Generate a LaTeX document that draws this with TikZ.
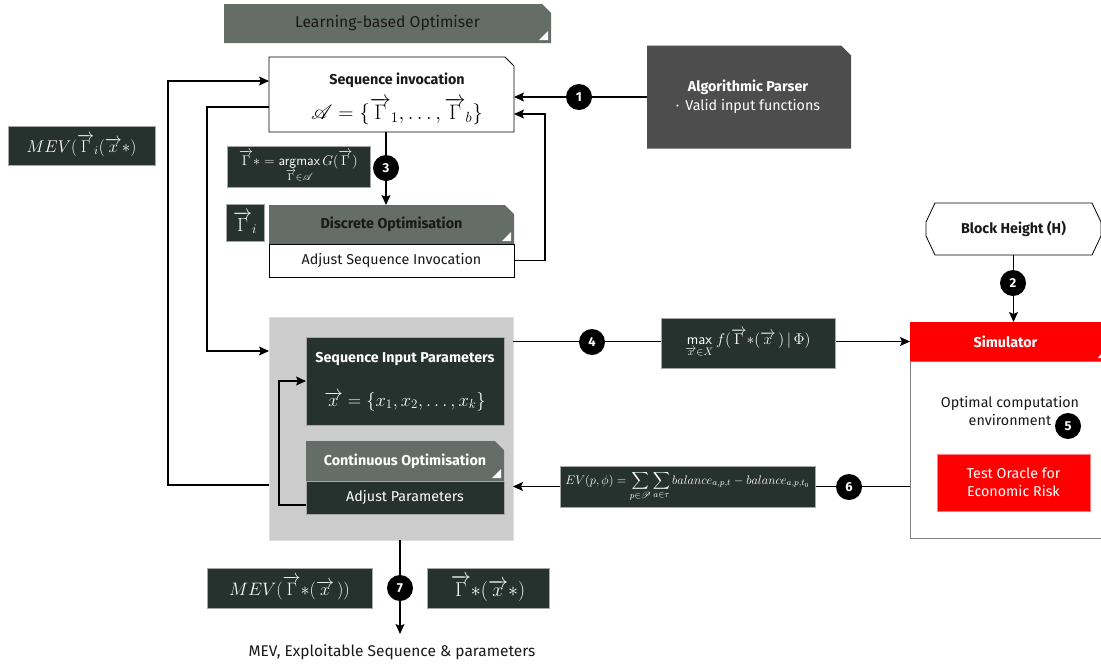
\RequirePackage{fix-cm}
\documentclass[tikz,border=0pt]{standalone}
\usepackage{amsmath}
\usepackage{mathrsfs}
\usepackage{fontspec}
\setmainfont{Fira Sans}
\usetikzlibrary{arrows.meta,calc}
\pgfdeclarelayer{bg}\pgfdeclarelayer{lines}
\pgfsetlayers{bg,lines,main}
\definecolor{dkg}{RGB}{38,50,45}
\definecolor{hdrg}{RGB}{101,109,105}
\definecolor{prs}{RGB}{77,77,77}
\definecolor{lgray}{RGB}{204,204,204}
\definecolor{txtdk}{RGB}{25,25,25}
\newcommand\chbox[4]{\begin{pgfonlayer}{bg}\filldraw[fill=#2,draw=#3,line width=0.8pt] (#1.south west) -- (#1.north west) -- ([xshift=-#4]#1.north east) -- ([yshift=-#4]#1.north east) -- (#1.south east) -- cycle;\end{pgfonlayer}}
\newcommand\corner[1]{\fill[white] ([xshift=-12pt,yshift=3pt]#1.south east) -- ([xshift=-3pt,yshift=3pt]#1.south east) -- ([xshift=-3pt,yshift=12pt]#1.south east) -- cycle;}
\tikzset{
  base/.style={inner sep=0pt, outer sep=0pt, align=center},
  darkbox/.style={base, fill=dkg, draw=gray!70, line width=0.7pt, text=white},
  ttl/.style={font=\fontsize{14.3}{16}\selectfont\bfseries},
  reg/.style={font=\fontsize{14.3}{16}\selectfont},
  num/.style={circle, fill=black, text=white, minimum size=26pt, inner sep=0pt, font=\fontsize{13}{13}\selectfont\bfseries},
  arr/.style={line width=1.2pt, -{Stealth[length=10pt,width=9pt,inset=2pt]}},
}
\begin{document}
\begin{tikzpicture}[x=1pt,y=-1pt]
\useasboundingbox (0,0) rectangle (1101,665);
% Learning-based optimiser
\node[base, minimum width=327pt, minimum height=39pt, font=\fontsize{15.7}{17}\selectfont, text=txtdk] (lbo) at (387.5,23.5) {Learning-based Optimiser};
\chbox{lbo}{hdrg}{none}{9pt}
\corner{lbo}
% Sequence invocation
\node[base, minimum width=245pt, minimum height=75pt] (seqinv) at (391.5,94.5) {};
\chbox{seqinv}{white}{black}{9pt}
\node[base, ttl, text=txtdk] (seqinvT) at (397,80) {Sequence invocation};
\node[base, font=\fontsize{21}{21}\selectfont] (seqinvF) at (397,111) {$\mathscr{A} = \{\overrightarrow{\Gamma}_1,\ldots,\overrightarrow{\Gamma}_b\}$};
% Parser
\node[base, minimum width=204pt, minimum height=103pt] (parser) at (749,97) {};
\chbox{parser}{prs}{none}{10pt}
\node[base, ttl, text=white] (parserT) at (748,87) {Algorithmic Parser};
\node[base, reg, text=white] (parserS) at (748,106) {·\, Valid input functions};
% left MEV
\node[darkbox, minimum width=147pt, minimum height=39pt, font=\fontsize{17}{17}\selectfont] (mevi) at (81.5,145.5) {$MEV(\overrightarrow{\Gamma}_i(\overrightarrow{x}{*})$};
% gamma star
\node[darkbox, minimum width=143pt, minimum height=41pt, font=\fontsize{14}{14}\selectfont] (gstar) at (298.5,166.5) {$\overrightarrow{\Gamma}{*} = \underset{\overrightarrow{\Gamma}\in\mathscr{A}}{\textsf{argmax}}\, G(\overrightarrow{\Gamma})$};
\node[darkbox, minimum width=38pt, minimum height=37pt, font=\fontsize{19}{19}\selectfont] (gi) at (245,222.5) {$\overrightarrow{\Gamma}_i$};
% Discrete
\node[base, ttl, minimum width=245pt, minimum height=39pt, text=txtdk] (disc) at (391.5,224.5) {Discrete Optimisation};
\chbox{disc}{hdrg}{none}{9pt}
\corner{disc}
\node[base, reg, draw=black, fill=white, line width=0.8pt, minimum width=245pt, minimum height=33pt, text=txtdk] (adjseq) at (391.5,260.5) {Adjust Sequence Invocation};
% Outer gray box
\node[base, minimum width=244pt, minimum height=223pt] (outer) at (391,428.5) {};
\begin{pgfonlayer}{bg}\filldraw[fill=lgray, draw=gray!25, line width=1pt] (outer.south west) rectangle (outer.north east);\end{pgfonlayer}
\node[darkbox, minimum width=198pt, minimum height=88pt] (sip) at (405,381) {};
\node[base, ttl, text=white] (sipT) at (405,359) {Sequence Input Parameters};
\node[base, text=white, font=\fontsize{18.5}{18.5}\selectfont] (sipF) at (405,401) {$\overrightarrow{x} = \{x_1,x_2,\ldots,x_k\}$};
\node[base, ttl, minimum width=198pt, minimum height=40pt, text=white] (cont) at (405,461) {Continuous Optimisation};
\chbox{cont}{hdrg}{none}{9pt}
\corner{cont}
\node[darkbox, reg, minimum width=198pt, minimum height=33pt] (adjpar) at (405,497.5) {Adjust Parameters};
% max f
\node[darkbox, minimum width=174pt, minimum height=50pt, font=\fontsize{15.5}{15.5}\selectfont] (maxf) at (748,343) {$\underset{\overrightarrow{x}\in X}{\textsf{max}}\, f(\overrightarrow{\Gamma}{*}(\overrightarrow{x}\,)\,|\,\Phi)$};
% Simulator
\node[base, ttl, fill=red, minimum width=191pt, minimum height=39pt, text=white] (simhdr) at (1005.5,341.5) {Simulator};
\node[base, draw=gray, fill=white, line width=0.8pt, minimum width=191pt, minimum height=177pt] (simbody) at (1005.5,449.5) {};
\node[base, reg, text=txtdk, align=center] (optenv) at (1010,411) {Optimal computation\\[2pt]environment};
\node[base, reg, fill=red, draw=red!50, line width=0.8pt, minimum width=153pt, minimum height=57pt, text=white] (oracle) at (1013.5,482.5) {Test Oracle for\\[2pt]Economic Risk};
\fill[white] (1098,358) -- (1101,358) -- (1101,354) -- cycle;
% Block height
\node[base, ttl, minimum width=175pt, minimum height=52pt, text=txtdk] (bh) at (1013.5,229) {Block Height (H)};
\begin{pgfonlayer}{bg}
\filldraw[fill=white, draw=black, line width=0.8pt] ([xshift=9pt]bh.north west) -- ([xshift=-9pt]bh.north east) -- ([yshift=-19pt]bh.north east) -- ([yshift=19pt]bh.south east) -- ([xshift=-9pt]bh.south east) -- ([xshift=9pt]bh.south west) -- ([yshift=19pt]bh.south west) -- ([yshift=-19pt]bh.north west) -- cycle;
\end{pgfonlayer}
% EV
\node[darkbox, minimum width=255pt, minimum height=41pt, font=\fontsize{12.5}{12.5}\selectfont] (ev) at (687.5,486.5) {$EV(p,\phi) = \displaystyle\sum_{p\in\mathscr{P}}\sum_{a\in\tau} balance_{a,p,t} - balance_{a,p,t_0}$};
% outputs
\node[darkbox, minimum width=165pt, minimum height=40pt, font=\fontsize{18}{18}\selectfont] (mev2) at (289.5,588) {$MEV(\overrightarrow{\Gamma}{*}(\overrightarrow{x}\,))$};
\node[darkbox, minimum width=122pt, minimum height=40pt, font=\fontsize{20}{20}\selectfont] (gx) at (488,588) {$\overrightarrow{\Gamma}{*}(\overrightarrow{x}{*})$};
\node[base, font=\fontsize{15.5}{17}\selectfont, text=txtdk] (outT) at (392,652) {MEV, Exploitable Sequence \& parameters};
\coordinate (outend) at (400,634);
% numbers
\node[num] (c1) at (579,97) {1};
\node[num] (c2) at (1013,283) {2};
\node[num] (c3) at (386,168) {3};
\node[num] (c4) at (592,342) {4};
\node[num] (c5) at (1068,426) {5};
\node[num] (c6) at (849,487) {6};
\node[num] (c7) at (400,588) {7};
% connectors
\begin{pgfonlayer}{lines}
\draw[arr] (parser.west) -- (parser.west -| seqinv.east);
\draw[arr] (adjseq.east) -- ++(31,0) |- ([yshift=-19.5pt]seqinv.east);
\draw[arr] ([xshift=-5.5pt]seqinv.south) -- ([xshift=-5.5pt]disc.north);
\draw[arr] ([yshift=-56.5pt]outer.west) -- ++(-101,0) |- ([yshift=13.5pt]seqinv.west);
\draw[arr] ([yshift=-12.5pt]seqinv.west) -- ++(-62,0) |- ([yshift=77.5pt]outer.west);
\draw[arr] ([yshift=-7.5pt]adjpar.west) -- ++(-27,0) |- (sip.west);
\draw[arr] (outer.east |- simhdr.west) -- (simhdr.west);
\draw[arr] (simbody.west |- ev.east) -- (outer.east |- ev.east);
\draw[arr] (bh.south) -- (bh.south |- simhdr.north);
\draw[arr] ([xshift=9pt]outer.south) -- (outend);
\end{pgfonlayer}
\end{tikzpicture}
\end{document}
